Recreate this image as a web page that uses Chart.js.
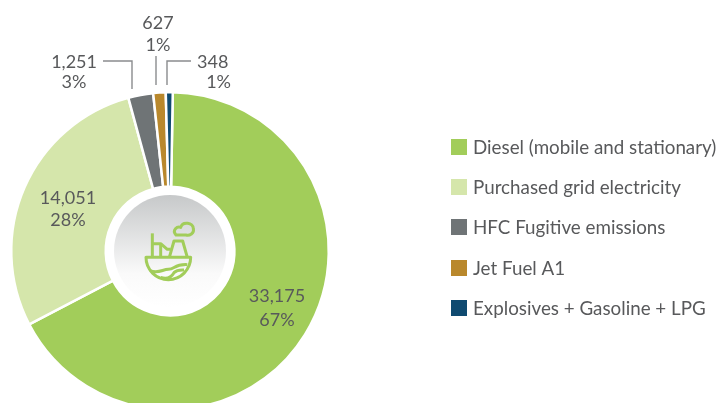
<!DOCTYPE html>
<html><head><meta charset="utf-8">
<style>html,body{margin:0;padding:0;background:#fff;overflow:hidden;width:720px;height:403px}canvas{display:block}</style>
<script src="https://cdn.jsdelivr.net/npm/chart.js@4"></script>
</head><body><canvas id="c" width="720" height="420"></canvas>
<script>
const categories = ['Diesel (mobile and stationary)','Purchased grid electricity','HFC Fugitive emissions','Jet Fuel A1','Explosives + Gasoline + LPG'];
const values = [33175,14051,1251,627,348];
const percents = ['67%','28%','3%','1%','1%'];
const colors = ['#a2cd5a','#d5e6ab','#6f7476','#b9882c','#0f4a70'];
const FONT = 'Lato, "Open Sans", sans-serif', TXT = '#58595b', LINE = '#8a8c8e';
const fmt = v => v.toLocaleString('en-US');
const labelSpots = [
 [{x:277,y:296,a:'center'},{x:277,y:320,a:'center'}],
 [{x:68,y:198,a:'center'},{x:68,y:220,a:'center'}],
 [{x:97,y:62,a:'right'},{x:74,y:82,a:'center'}],
 [{x:158,y:23,a:'center'},{x:158,y:45,a:'center'}],
 [{x:197,y:62,a:'left'},{x:231,y:82,a:'right'}]];
const leaders = [[[103,61],[132,61],[132,89]],[[156,56],[156,85]],[[191,61],[167,61],[167,85]]];
const legendY = [148,188,228,269,309];
const swatchY = [147,187,227,268,308];
const deco = {
 id:'deco',
 afterDatasetsDraw(ch){
  const g = ch.ctx, m = ch.getDatasetMeta(0).data[0], cx = m.x, cy = m.y;
  g.save();
  const gr = g.createLinearGradient(0,cy-57,0,cy+57);
  gr.addColorStop(0,'#c6c8c9'); gr.addColorStop(.7,'#fafafa'); gr.addColorStop(1,'#ffffff');
  g.fillStyle = gr; g.beginPath(); g.arc(cx,cy,56,0,Math.PI*2); g.fill();
  g.translate(100,180); g.scale(1/3,1/3);
  g.strokeStyle = colors[0]; g.lineWidth = 9; g.lineJoin='round'; g.lineCap='butt';
  const P = s => g.stroke(new Path2D(s));
  P('M138 232 H272 A67 67 0 0 1 138 232 Z');
  P('M157 160 V232');
  P('M157 191 H182 L202 208 H212');
  P('M182 191 V232');
  P('M208 232 L222 183 H248 L262 232');
  P('M228 165 C215 150 232 138 242 142 C248 122 280 128 280 146 C284 160 268 168 258 165 H228 Z');
  P('M150 272 C175 282 188 268 205 268 C225 268 222 252 262 254');
  P('M182 292 C205 300 215 290 222 278 C232 268 245 270 252 270');
  g.restore();
  g.save(); g.strokeStyle = LINE; g.lineWidth = 1.4;
  leaders.forEach(l=>{g.beginPath(); l.forEach((p,i)=>i?g.lineTo(p[0],p[1]):g.moveTo(p[0],p[1])); g.stroke();});
  g.font = '18px '+FONT; g.fillStyle = TXT; g.textBaseline='middle';
  values.forEach((v,i)=>{
    const [a,b] = labelSpots[i];
    g.textAlign=a.a; g.fillText(fmt(v),a.x,a.y);
    g.textAlign=b.a; g.fillText(percents[i],b.x,b.y);
  });
  g.font = '18.8px '+FONT; g.textAlign='left';
  categories.forEach((c,i)=>{
    g.fillStyle = colors[i]; g.fillRect(451,swatchY[i]-8,16,16);
    g.fillStyle = TXT; g.fillText(c,473,legendY[i]);
  });
  g.restore();
 }
};
new Chart(document.getElementById('c'),{
 type:'doughnut',
 data:{labels:categories,datasets:[{data:values,backgroundColor:colors,borderColor:'#fff',borderWidth:2.5,hoverOffset:0}]},
 options:{responsive:false,animation:false,rotation:1,cutout:'40.5%',
  layout:{padding:{left:10,right:390,top:91,bottom:9}},
  plugins:{legend:{display:false},tooltip:{enabled:false}}},
 plugins:[deco]
});
</script></body></html>
